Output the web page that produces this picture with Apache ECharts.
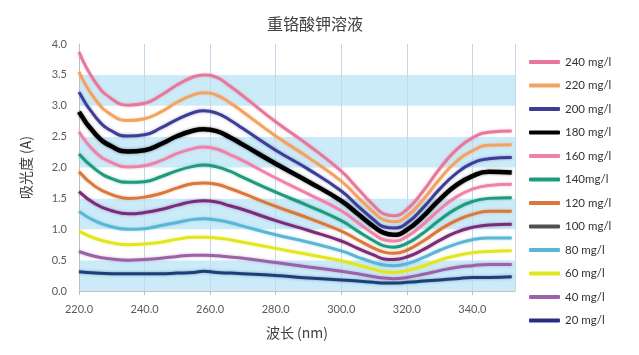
<!DOCTYPE html>
<html>
<head>
<meta charset="utf-8">
<script src="https://cdn.jsdelivr.net/npm/echarts@6/dist/echarts.min.js"></script>
<style>html,body{margin:0;padding:0;background:#fff}#c{width:639px;height:355px}</style>
</head>
<body>
<div id="c"></div>
<script>
const wavelengths = [220,225,230,235,240,245,250,255,258,262,266,270,280,290,300,305,310,313,316,320,325,330,335,340,345,352];
const seriesNames = ['240 mg/l','220 mg/l','200 mg/l','180 mg/l','160 mg/l','140mg/l','120 mg/l','100 mg/l','80 mg/l','60 mg/l','40 mg/l','20 mg/l'];
const s240 = [3.87,3.38,3.11,3.01,3.04,3.17,3.34,3.47,3.50,3.46,3.32,3.16,2.74,2.36,1.94,1.66,1.38,1.25,1.22,1.32,1.62,1.98,2.28,2.48,2.57,2.59];
const s220 = [3.55,3.10,2.85,2.76,2.79,2.90,3.06,3.18,3.21,3.17,3.05,2.90,2.51,2.16,1.78,1.52,1.27,1.15,1.12,1.21,1.48,1.81,2.09,2.27,2.36,2.37];
const s200 = [3.22,2.82,2.59,2.51,2.53,2.64,2.78,2.89,2.92,2.88,2.77,2.63,2.28,1.97,1.62,1.38,1.15,1.04,1.02,1.10,1.35,1.65,1.90,2.07,2.14,2.16];
const s180 = [2.90,2.54,2.34,2.26,2.28,2.38,2.51,2.60,2.62,2.59,2.49,2.37,2.06,1.77,1.46,1.25,1.04,0.94,0.91,0.99,1.21,1.48,1.71,1.86,1.93,1.92];
const s160 = [2.58,2.25,2.08,2.01,2.03,2.11,2.23,2.31,2.33,2.30,2.21,2.11,1.83,1.57,1.30,1.11,0.92,0.83,0.81,0.88,1.08,1.32,1.52,1.65,1.71,1.73];
const s140 = [2.22,1.97,1.82,1.76,1.77,1.85,1.95,2.02,2.04,2.01,1.94,1.84,1.60,1.38,1.14,0.97,0.81,0.73,0.71,0.77,0.94,1.15,1.33,1.45,1.50,1.51];
const s120 = [1.93,1.69,1.56,1.50,1.52,1.58,1.67,1.74,1.75,1.73,1.66,1.58,1.37,1.18,0.97,0.83,0.69,0.63,0.61,0.66,0.81,0.99,1.14,1.24,1.29,1.29];
const s100 = [1.61,1.41,1.30,1.25,1.27,1.32,1.39,1.45,1.46,1.44,1.38,1.32,1.14,0.98,0.81,0.69,0.58,0.52,0.51,0.55,0.67,0.82,0.95,1.03,1.07,1.08];
const s80  = [1.29,1.13,1.04,1.00,1.01,1.06,1.11,1.16,1.17,1.15,1.11,1.05,0.91,0.79,0.65,0.55,0.46,0.42,0.41,0.44,0.54,0.66,0.76,0.83,0.86,0.86];
const s60  = [0.97,0.85,0.78,0.75,0.76,0.79,0.84,0.87,0.87,0.86,0.83,0.79,0.69,0.59,0.49,0.42,0.35,0.31,0.30,0.33,0.40,0.50,0.57,0.62,0.64,0.65];
const s40  = [0.64,0.56,0.52,0.50,0.51,0.53,0.56,0.58,0.58,0.57,0.55,0.53,0.46,0.39,0.32,0.28,0.23,0.21,0.20,0.22,0.27,0.33,0.38,0.41,0.43,0.43];
const s20  = [0.31,0.29,0.28,0.28,0.28,0.28,0.29,0.30,0.32,0.30,0.29,0.28,0.25,0.21,0.18,0.16,0.14,0.13,0.13,0.14,0.16,0.18,0.20,0.22,0.22,0.23];
const seriesValues = [s240,s220,s200,s180,s160,s140,s120,s100,s80,s60,s40,s20];
const colors = ['#e8789a','#f4a260','#3e3d96','#000000','#ee82a8','#1e9a7e','#d9783a','#7a2c78','#5bb5d5','#e2e61e','#9a62a8','#1d3f78'];
const legendColors = ['#e8789a','#f4a260','#3e3d96','#000000','#ee82a8','#1e9a7e','#d9783a','#505050','#5bb5d5','#e2e61e','#9a62a8','#2a2a88'];
const widths = [3,3,3,4.5,3,3,3,3,3,3,3,3];

const chart = echarts.init(document.getElementById('c'));
const series = seriesNames.map((name, i) => ({
  name: name,
  type: 'line',
  smooth: 0.5,
  symbol: 'none',
  z: 20 - i,
  data: wavelengths.map((w, j) => [w, seriesValues[i][j]]),
  lineStyle: { color: colors[i], width: widths[i], shadowColor: echarts.color.modifyAlpha(colors[i], 0.45), shadowBlur: 3 },
  itemStyle: { color: colors[i] }
}));
chart.setOption({
  animation: false,
  title: {
    text: '重铬酸钾溶液', left: 310, top: 11, textAlign: 'center',
    textStyle: { fontFamily: 'Noto Sans CJK SC', fontSize: 16, fontWeight: 'normal', color: '#404040' }
  },
  grid: { left: 79, right: 124, top: 44, bottom: 64 },
  legend: {
    orient: 'vertical', left: 524, top: 50,
    icon: 'roundRect',
    itemWidth: 31, itemHeight: 4, itemGap: 9.5,
    textStyle: { fontFamily: 'Lato', fontSize: 11.5, color: '#333', lineHeight: 14 },
    data: seriesNames.map((n, i) => ({ name: n, itemStyle: { color: legendColors[i] } }))
  },
  xAxis: {
    type: 'value', min: 220, max: 353, interval: 20,
    name: '波长 (nm)', nameLocation: 'middle', nameGap: 35,
    nameTextStyle: { fontFamily: 'Noto Sans CJK SC', fontSize: 14, color: '#404040' },
    axisLine: { show: true, lineStyle: { color: '#c0c0c0' } },
    axisTick: { show: true, length: 4, lineStyle: { color: '#c0c0c0' } },
    axisLabel: { showMaxLabel: false, margin: 13, fontFamily: 'Lato', fontSize: 11, color: '#595959', formatter: v => v.toFixed(1) },
    splitLine: { show: true, lineStyle: { color: '#c4d8e8', width: 1 } }
  },
  yAxis: {
    type: 'value', min: 0, max: 4, interval: 0.5,
    name: '吸光度 (A)', nameLocation: 'middle', nameGap: 46,
    nameTextStyle: { fontFamily: 'Noto Sans CJK SC', fontSize: 14, color: '#404040' },
    axisLine: { show: true, lineStyle: { color: '#c0c0c0' } },
    axisTick: { show: false },
    axisLabel: { margin: 12, fontFamily: 'Lato', fontSize: 11, color: '#595959', formatter: v => v.toFixed(1) },
    splitLine: { show: false },
    splitArea: { show: true, areaStyle: { color: ['#cbebf9', '#ffffff'] } }
  },
  series: series
});
</script>
</body>
</html>
